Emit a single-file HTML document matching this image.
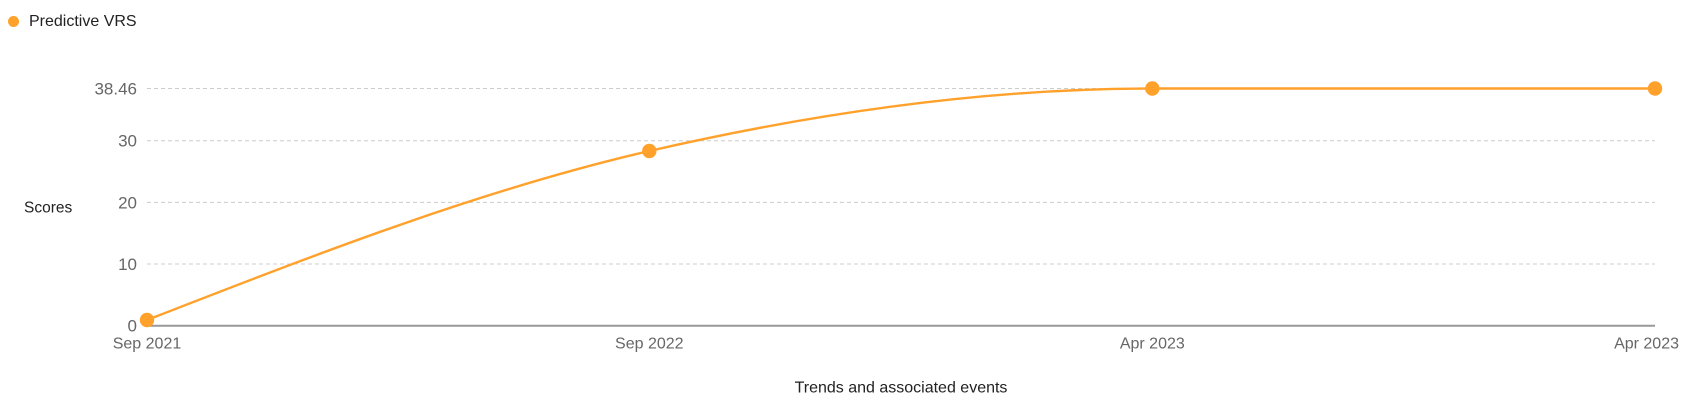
<!DOCTYPE html>
<html>
<head>
<meta charset="utf-8">
<style>
  html, body { margin: 0; padding: 0; background: #fff; }
  body { width: 1693px; height: 403px; overflow: hidden; }
  svg { display: block; font-family: "Liberation Sans", sans-serif; }
</style>
</head>
<body>
<svg width="1693" height="403" viewBox="0 0 1693 403" xmlns="http://www.w3.org/2000/svg">
  <!-- Legend -->
  <circle cx="13.5" cy="21.5" r="5.5" fill="#FFA12B"/>
  <text x="29" y="26" font-size="16" fill="#222">Predictive VRS</text>

  <!-- Gridlines -->
  <g stroke="#cccccc" stroke-width="1" stroke-dasharray="4 3">
    <line x1="147" y1="88.5" x2="1655" y2="88.5"/>
    <line x1="147" y1="140.7" x2="1655" y2="140.7"/>
    <line x1="147" y1="202.4" x2="1655" y2="202.4"/>
    <line x1="147" y1="264" x2="1655" y2="264"/>
  </g>

  <!-- X axis line -->
  <line x1="147" y1="325.7" x2="1655" y2="325.7" stroke="#999" stroke-width="2"/>

  <!-- Y tick labels -->
  <g font-size="17" fill="#666" text-anchor="end">
    <text x="137" y="94.5">38.46</text>
    <text x="137" y="146.7">30</text>
    <text x="137" y="208.4">20</text>
    <text x="137" y="270">10</text>
    <text x="137" y="331.7">0</text>
  </g>

  <!-- Y axis title -->
  <text x="24" y="212.7" font-size="15.5" fill="#222">Scores</text>

  <!-- X tick labels -->
  <g font-size="16" fill="#666">
    <text x="147" y="348.3" text-anchor="middle">Sep 2021</text>
    <text x="649.3" y="348.3" text-anchor="middle">Sep 2022</text>
    <text x="1152.3" y="348.3" text-anchor="middle">Apr 2023</text>
    <text x="1679" y="348.3" text-anchor="end">Apr 2023</text>
  </g>

  <!-- X axis title -->
  <text x="901" y="392.5" font-size="16" fill="#222" text-anchor="middle">Trends and associated events</text>

  <!-- Series -->
  <path d="M147,320 C314.56,254.8 481.7,189.59 649.3,151 C816.9,112.41 984.7,88.5 1152.3,88.5 C1319.9,88.5 1487.4,88.5 1655,88.5"
        fill="none" stroke="#FFA12B" stroke-width="2.4"/>
  <g fill="#FFA12B">
    <circle cx="147" cy="320" r="7.2"/>
    <circle cx="649.3" cy="151" r="7.2"/>
    <circle cx="1152.3" cy="88.5" r="7.2"/>
    <circle cx="1655" cy="88.5" r="7.2"/>
  </g>
</svg>
</body>
</html>
